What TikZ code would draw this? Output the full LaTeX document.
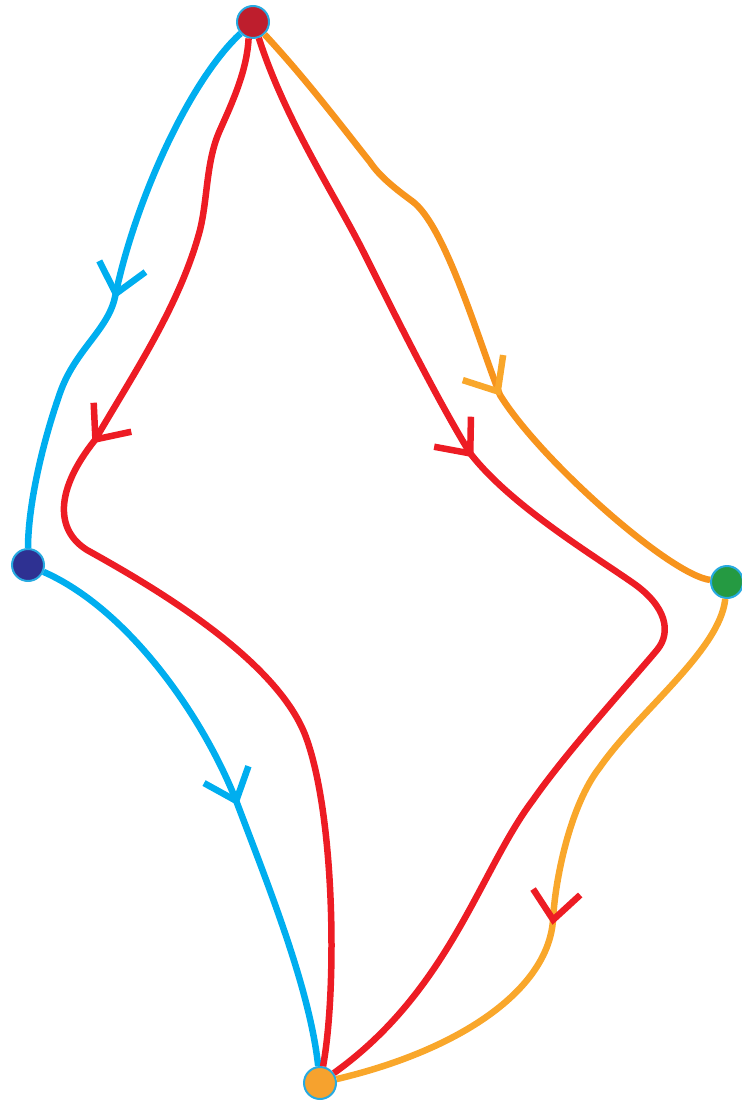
\documentclass[tikz,border=0pt]{standalone}
\usepackage{tikz}
\usetikzlibrary{arrows.meta, decorations.markings}

\definecolor{nodered}{HTML}{BE1E2D}
\definecolor{nodeblue}{HTML}{2E3192}
\definecolor{nodegreen}{HTML}{259A42}
\definecolor{nodeorange}{HTML}{F6A22E}
\definecolor{ringcyan}{HTML}{27AAE1}
\definecolor{lineblue}{HTML}{00AEEF}
\definecolor{linered}{HTML}{ED1C24}
\definecolor{lineorange}{HTML}{F7941D}
\definecolor{lineyellow}{HTML}{F9A72B}

\begin{document}
\begin{tikzpicture}[x=0.02cm, y=-0.02cm,
  vertex/.style={draw=ringcyan, line width=0.04cm, circle, minimum size=0.64cm, inner sep=0pt},
  flow/.style={line width=0.13cm},
  tipat/.style 2 args={postaction={decorate}, decoration={markings, mark=at position #1 with {\arrow[#2]{Straight Barb[length=0.56cm, width=0.95cm]}}}}
]

\useasboundingbox (0,0) rectangle (741,1104);

\node [vertex, fill=nodered   ] (src)  at (253,22)   {};
\node [vertex, fill=nodeblue  ] (west) at (28,565)   {};
\node [vertex, fill=nodegreen ] (east) at (727,582)  {};
\node [vertex, fill=nodeorange] (sink) at (320,1083) {};

\path [draw, flow, lineblue  , tipat={0.525}{lineblue}  ] (src) .. controls (190,80) and (135,200) .. (115,297) .. controls (108,330) and (75,350) .. (60,393) .. controls (40,450) and (28,510) .. (west);
\path [draw, flow, lineblue  , tipat={0.532}{lineblue}  ] (west) .. controls (130,610) and (205,720) .. (237,803) .. controls (270,890) and (310,990) .. (sink);
\path [draw, flow, linered   , tipat={0.37}{linered}    ] (src.-105) .. controls (247,70) and (233,101) .. (220,130) .. controls (206,161) and (208,197) .. (200,230) .. controls (180,305) and (134,373) .. (95,440) .. controls (55,490) and (55,530) .. (87,550) .. controls (150,585) and (280,660) .. (307,740) .. controls (335,820) and (337,990) .. (sink);
\path [draw, flow, linered   , tipat={0.365}{linered}   ] (src.-70) .. controls (285,120) and (335,195) .. (365,255) .. controls (390,305) and (435,396) .. (470,453) .. controls (510,505) and (593,555) .. (633,583) .. controls (666,606) and (672,632) .. (657,650) .. controls (632,680) and (568,750) .. (533,800) .. controls (480,870) and (450,990) .. (sink);
\path [draw, flow, lineorange, tipat={0.608}{lineyellow}] (src) .. controls (306,79) and (343,128) .. (370,162) .. controls (380,177) and (397,190) .. (412,201) .. controls (445,225) and (478,339) .. (500,395) .. controls (540,460) and (670,575) .. (east);
\path [draw, flow, lineyellow, tipat={0.575}{linered}   ] (east) .. controls (720,650) and (640,710) .. (600,767) .. controls (570,805) and (555,880) .. (553,920) .. controls (548,990) and (460,1050) .. (sink);

\end{tikzpicture}
\end{document}
